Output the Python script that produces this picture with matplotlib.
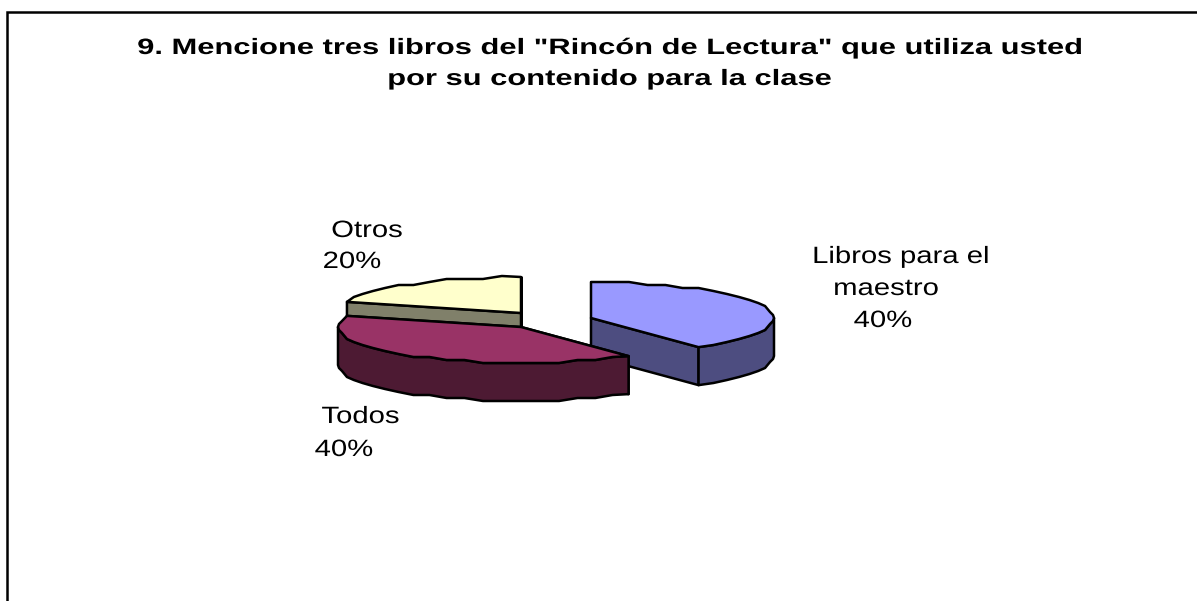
"""Survey chart: exploded 3-D style pie, drawn by hand because matplotlib has no 3-D pie."""

import matplotlib

matplotlib.use("Agg")
import matplotlib.pyplot as plt
import numpy as np
from matplotlib.patches import Polygon
from matplotlib.patheffects import AbstractPathEffect
from matplotlib.transforms import Affine2D

plt.rcParams["font.family"] = ["Liberation Sans", "DejaVu Sans"]

title_lines = ['9. Mencione tres libros del "Rincón de Lectura" que utiliza usted',
               "por su contenido para la clase"]
title_y = [54, 85]
label_lines = ["Libros para el", "maestro", "40%", "Todos", "40%", "Otros", "20%"]
label_x = [901, 886, 883, 360.5, 344, 367, 352]
label_y = [263, 295, 327, 423, 456, 237, 268]
values = [40, 40, 20]

top_colors = ["#9999FF", "#993366", "#FFFFCC"]
side_colors = ["#4D4D80", "#4D1A33", "#80806A"]

RX, RY, DEPTH = 183, 36, 38
# pie apex of each slice after explosion (pixels)
apex = [(591, 318), (521, 327), (521, 313)]
LW = 1.8


class StretchX(AbstractPathEffect):
    # the source picture was stretched sideways, so the glyphs are wider than the font
    def __init__(self, factor, x_pixels):
        super().__init__()
        self.factor = factor
        self.x_pixels = x_pixels

    def draw_path(self, renderer, gc, tpath, affine, rgbFace=None):
        stretch = Affine2D().translate(-self.x_pixels, 0).scale(self.factor, 1).translate(self.x_pixels, 0)
        renderer.draw_path(gc, tpath, affine + stretch, rgbFace)


def rim(cx, cy, a0, a1):
    # angles are clockwise from 12 o'clock, ellipse squashed for the tilt
    n = max(int((a1 - a0) / 6), 2) + 1
    t = np.radians(np.linspace(a0, a1, n))
    # snap y to a coarse grid, the original rim is visibly stepped
    y = np.round((cy - RY * np.cos(t)) / 3) * 3
    y[0], y[-1] = cy - RY * np.cos(t[0]), cy - RY * np.cos(t[-1])
    return np.column_stack([cx + RX * np.sin(t), y]), t


def draw_slice(ax, i, a0, a1, z):
    cx, cy = apex[i]
    edge, t = rim(cx, cy, a0, a1)
    kw = dict(closed=True, edgecolor="black", linewidth=LW, joinstyle="round", zorder=z)
    down = np.array([0, DEPTH])
    centre = np.array([[cx, cy]])

    # cut faces first, then the outer wall, then the lid
    for p in (edge[0], edge[-1]):
        quad = np.vstack([centre, [p], [p + down], centre + down])
        ax.add_patch(Polygon(quad, facecolor=side_colors[i], **kw))
    front = edge[np.cos(t) <= 0.05]
    if len(front) > 1:
        wall = np.vstack([front, (front + down)[::-1]])
        ax.add_patch(Polygon(wall, facecolor=side_colors[i], **kw))
    ax.add_patch(Polygon(np.vstack([centre, edge]), facecolor=top_colors[i], **kw))


fig = plt.figure(figsize=(11.97, 6.01), dpi=100)
ax = fig.add_axes([0, 0, 1, 1])
ax.set_xlim(0, 1197)
ax.set_ylim(601, 0)
ax.axis("off")

# chart frame, cut off at the right and bottom of the picture
ax.plot([7, 7, 1197], [601, 12, 12], color="black", linewidth=1.8, solid_joinstyle="miter")

angles = np.cumsum([0] + values) / sum(values) * 360
for i, z in [(2, 2), (0, 4), (1, 6)]:
    draw_slice(ax, i, angles[i], angles[i + 1], z)

for s, x, y in zip(label_lines, label_x, label_y):
    ax.text(x, y, s, ha="center", va="baseline", fontsize=17, zorder=10,
            path_effects=[StretchX(1.24, x)])

for s, y in zip(title_lines, title_y):
    ax.text(609, y, s, ha="center", va="baseline", fontsize=16, fontweight="bold",
            path_effects=[StretchX(1.39, 609)])

fig.savefig("out.png", dpi=100)
